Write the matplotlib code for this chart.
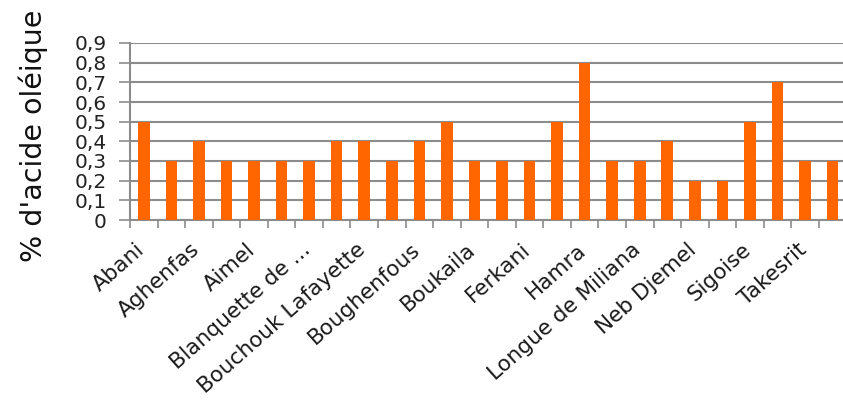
import matplotlib
matplotlib.use("Agg")
import matplotlib.pyplot as plt
import numpy as np

# Variétés d'olivier et taux d'acidité mesurés
varietes = ["Abani", "Aberkane", "Aghenfas", "Aharoun", "Aimel", "Azeradj",
            "Blanquette de Guelma", "Bouchouk Guergour", "Bouchouk Lafayette",
            "Bouchouk Soummam", "Boughenfous", "Bouichret", "Boukaila",
            "Chemlal", "Ferkani", "Grosse du Hamma", "Hamra", "Limli",
            "Longue de Miliana", "Mekki", "Neb Djemel", "Rougette de Mitidja",
            "Sigoise", "Souidi", "Takesrit", "Tefah"]
acidite = [0.5, 0.3, 0.4, 0.3, 0.3, 0.3, 0.3, 0.4, 0.4, 0.3, 0.4, 0.5, 0.3,
           0.3, 0.3, 0.5, 0.8, 0.3, 0.3, 0.4, 0.2, 0.2, 0.5, 0.7, 0.3, 0.3]
yticks = [0, 0.1, 0.2, 0.3, 0.4, 0.5, 0.6, 0.7, 0.8, 0.9]

# libellés affichés un sur deux, noms longs abrégés
etiquettes = []
for i, v in enumerate(varietes):
    if i % 2 == 0:
        etiquettes.append("Blanquette de ..." if v.startswith("Blanquette") else v)

fig = plt.figure(figsize=(8.43, 4), dpi=100)
ax = fig.add_axes([130 / 843, 1 - 220 / 400, 1 - 130 / 843 + 0.004, (220 - 43) / 400])

x = np.arange(len(varietes))
ax.bar(x, acidite, width=0.42, color="#ff6600", zorder=3)

ax.set_xlim(-0.5, len(varietes) - 0.5)
ax.set_ylim(0, 0.9)
ax.set_yticks(yticks)
ax.set_yticklabels([f"{t:.1f}".replace(".", ",") if t else "0" for t in yticks])
ax.yaxis.grid(True, color="#8c8c8c", linewidth=1.5, zorder=0)

# ticks x entre les barres, étiquettes sur une barre sur deux
ax.set_xticks(np.arange(-0.5, len(varietes), 1))
ax.set_xticklabels([])
ax.set_xticks(x[::2] - 0.3, minor=True)
ax.set_xticklabels(etiquettes, minor=True, rotation=41.5, ha="right",
                   rotation_mode="anchor", fontsize=15.5, color="#1a1a1a")
ax.tick_params(axis="x", which="major", length=6, width=1.2, color="#8c8c8c", direction="out")
ax.tick_params(axis="x", which="minor", length=0, pad=14)
ax.tick_params(axis="y", length=8, width=1.2, color="#8c8c8c", pad=9,
               labelsize=14.5, labelcolor="#222222")

for s in ["top", "right"]:
    ax.spines[s].set_visible(False)
for s in ["left", "bottom"]:
    ax.spines[s].set_color("#8c8c8c")
    ax.spines[s].set_linewidth(1.5)

fig.text(33 / 843, 1 - 136 / 400, "% d'acide oléique", rotation=90,
         ha="center", va="center", fontsize=20.5, color="#111111")

fig.savefig("out.png", dpi=100)
